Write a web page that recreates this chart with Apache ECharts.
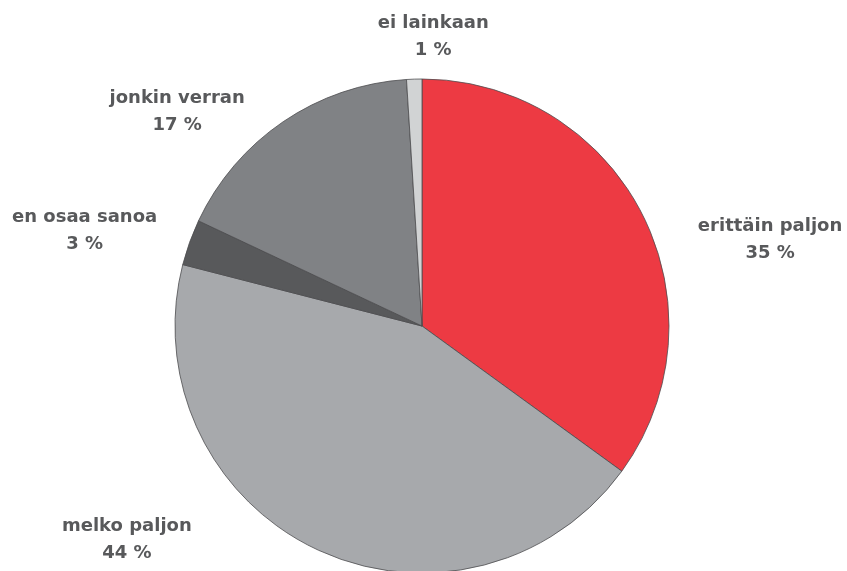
<!DOCTYPE html>
<html>
<head>
<meta charset="utf-8">
<script src="https://cdn.jsdelivr.net/npm/echarts@6/dist/echarts.min.js"></script>
<style>
  html, body { margin: 0; padding: 0; background: #ffffff; }
  #chart { width: 847px; height: 571px; }
</style>
</head>
<body>
<div id="chart"></div>
<script>
// Answer categories, clockwise from the top
const categories = ['erittäin paljon', 'melko paljon', 'en osaa sanoa', 'jonkin verran', 'ei lainkaan'];
// Share of respondents, %
const values = [35, 44, 3, 17, 1];
// Slice fills
const colors = ['#ED3A43', '#A7A9AC', '#58595B', '#808285', '#D1D3D4'];
// Label nudges from the slice rim (dx, dy), in px
const labelShift = [[123, 26], [-185, -10], [-100, -12], [-101, -10], [24, -42]];

const chart = echarts.init(document.getElementById('chart'), null, { renderer: 'canvas' });

chart.setOption({
  backgroundColor: '#ffffff',
  animation: false,
  series: [{
    type: 'pie',
    left: 0, top: 0, right: -120, bottom: 0,
    center: [422, 326],
    radius: 247,
    startAngle: 90,
    clockwise: true,
    avoidLabelOverlap: false,
    data: categories.map((name, i) => ({
      name: name,
      value: values[i],
      itemStyle: { color: colors[i] }
    })),
    itemStyle: { borderColor: '#4d4d4f', borderWidth: 0.8 },
    emphasis: { disabled: true },
    label: {
      show: true,
      position: 'outside',
      formatter: (p) => '{t|' + p.name + '}\n{t|' + p.value + ' %}',
      rich: {
        t: {
          fontFamily: '"DejaVu Sans", sans-serif',
          fontWeight: 'bold',
          fontSize: 18,
          lineHeight: 27,
          color: '#58595B',
          align: 'center'
        }
      }
    },
    labelLine: { show: false, length: 0, length2: 0 },
    labelLayout: (params) => {
      const s = labelShift[params.dataIndex];
      return { dx: s[0], dy: s[1], align: 'center', verticalAlign: 'middle' };
    }
  }]
});
</script>
</body>
</html>
